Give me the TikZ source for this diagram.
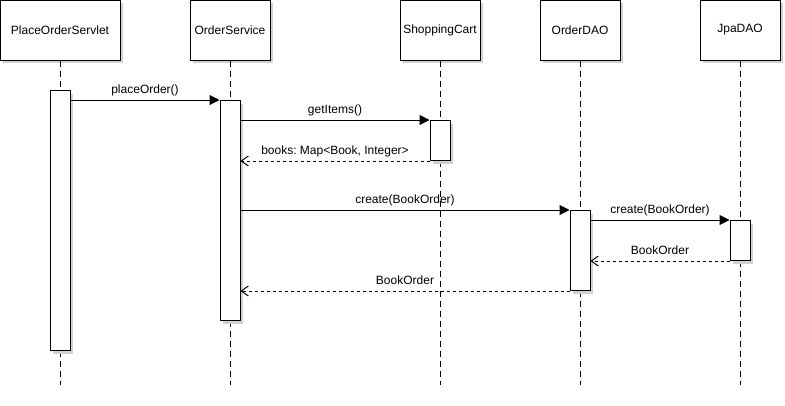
\documentclass[tikz,border=0pt]{standalone}
\usepackage{fontspec}
\setmainfont{Liberation Sans}
\usetikzlibrary{arrows.meta,shadows}
\frenchspacing
\begin{document}
\begin{tikzpicture}[x=1pt,y=-1pt,
  every node/.style={font=\fontsize{12}{14}\selectfont},
  boxshadow/.style={general shadow={shadow xshift=3pt,shadow yshift=-3pt,fill=black!18}},
  lifehead/.style={draw,line width=1pt,fill=white,boxshadow,minimum width=80pt,minimum height=60pt,inner sep=0pt},
  lifeline/.style={line width=1pt,dash pattern=on 6pt off 4pt},
  act/.style={draw,line width=1pt,fill=white,boxshadow,minimum width=20pt,inner sep=0pt,anchor=north},
  call/.style={line width=1pt,-{Triangle[length=10pt,width=10pt]}},
  reply/.style={line width=1pt,dash pattern=on 3pt off 3pt,-{Straight Barb[length=7pt,width=10pt]}},
  lbl/.style={midway,yshift=10pt,text height=9pt,text depth=3pt,inner sep=0pt}]
\useasboundingbox (0,0) rectangle (785,405);

% participants
\node[lifehead,minimum width=120pt] (servlet) at (60,30) {PlaceOrderServlet};
\node[lifehead] (service) at (230,30) {OrderService};
\node[lifehead] (cart) at (440,30) {ShoppingCart};
\node[lifehead] (dao) at (580,30) {OrderDAO};
\node[lifehead] (jpa) at (740,30) {JpaDAO};

% lifelines
\coordinate (bottom) at (0,385);
\foreach \p in {servlet,service,cart,dao,jpa}
  \draw[lifeline] (\p.south) -- (\p.south |- bottom);

% activations
\node[act,minimum height=260pt] (servletAct) at (60,90) {};
\node[act,minimum height=220pt] (serviceAct) at (230,100) {};
\node[act,minimum height=40pt] (cartAct) at (440,120) {};
\node[act,minimum height=80pt] (daoAct) at (580,210) {};
\node[act,minimum height=40pt] (jpaAct) at (740,220) {};

% messages
\draw[call] ([yshift=-10pt]servletAct.north east) -- (serviceAct.north west)
  node[lbl] {placeOrder()};
\draw[call] (serviceAct.east |- cartAct.north west) -- (cartAct.north west)
  node[lbl] {getItems()};
\draw[reply] (cartAct.south west) -- (serviceAct.east |- cartAct.south west)
  node[lbl] {books: Map<Book, Integer>};
\draw[call] (serviceAct.east |- daoAct.north west) -- (daoAct.north west)
  node[lbl] {create(BookOrder)};
\draw[call] (daoAct.east |- jpaAct.north west) -- (jpaAct.north west)
  node[lbl] {create(BookOrder)};
\draw[reply] (jpaAct.south west) -- (daoAct.east |- jpaAct.south west)
  node[lbl] {BookOrder};
\draw[reply] (daoAct.south west) -- (serviceAct.east |- daoAct.south west)
  node[lbl] {BookOrder};
\end{tikzpicture}
\end{document}
